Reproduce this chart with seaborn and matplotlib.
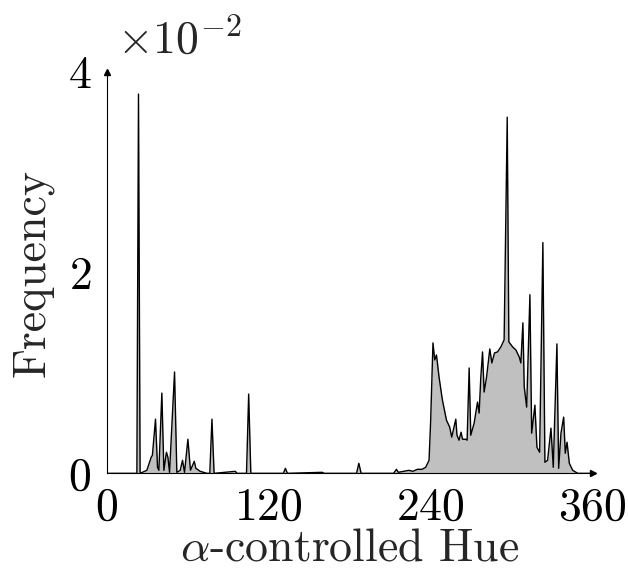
import matplotlib
matplotlib.use("Agg")
import matplotlib.pyplot as plt
import seaborn as sns
import pandas as pd

# Histogram of alpha-controlled hue
hue = [0, 22.3, 23.5, 24.7, 29.7, 32.9, 33.8, 36.1, 37.6, 38.6, 40.8, 42.3, 44.2, 45.3,
       46.5, 50.2, 51.9, 54.4, 56.1, 57.6, 60.1, 62.0, 64.8, 66.0, 69.2, 74.2, 76.3, 77.9,
       79.5, 95.2, 96.5, 103.5, 105.1, 106.7, 130.8, 132.3, 133.8, 159.6, 161.0, 185.0,
       186.7, 188.4, 212.5, 214.5, 216.0, 223.8, 226.6, 230.1, 233.5, 236.2, 238.7, 239.9,
       241.6, 242.9, 244.2, 246.1, 248.6, 251.6, 254.0, 255.5, 258.5, 259.4, 260.9, 262.4,
       263.5, 265.9, 266.9, 268.4, 269.6, 272.1, 274.6, 275.8, 277.0, 278.3, 279.5, 281.3,
       283.7, 285.2, 287.2, 289.4, 291.9, 294.3, 296.6, 297.8, 300.6, 303.0, 305.5, 306.7,
       308.2, 309.2, 311.0, 313.4, 314.7, 317.1, 318.6, 320.6, 323.0, 324.5, 326.5, 329.0,
       330.7, 333.4, 334.7, 336.4, 338.4, 339.6, 340.9, 342.6, 345.1, 348.8, 360]
freq = [0, 0, 0.0378, 0, 0.0003, 0.0016, 0.0018, 0.0054, 0.0006, 0.0003, 0.0080, 0.0003,
        0.0021, 0.0016, 0.0001, 0.0101, 0.0001, 0.0003, 0.0013, 0.0001, 0.0034, 0.0003,
        0.0012, 0.0005, 0.0002, 0, 0, 0.0054, 0, 0.0002, 0, 0, 0.0079, 0, 0, 0.0005, 0,
        0.0001, 0, 0, 0.0010, 0, 0, 0.0004, 0.0001, 0.0003, 0.0002, 0.0004, 0.0004, 0.0006,
        0.0013, 0.0053, 0.0130, 0.0113, 0.0118, 0.0096, 0.0073, 0.0053, 0.0046, 0.0036,
        0.0054, 0.0038, 0.0033, 0.0041, 0.0034, 0.0034, 0.0033, 0.0105, 0.0038, 0.0050,
        0.0071, 0.0060, 0.0095, 0.0121, 0.0081, 0.0096, 0.0124, 0.0110, 0.0120, 0.0121,
        0.0126, 0.0133, 0.0355, 0.0131, 0.0126, 0.0123, 0.0116, 0.0110, 0.0150, 0.0086,
        0.0066, 0.0178, 0.0040, 0.0068, 0.0026, 0.0021, 0.0230, 0.0011, 0.0013, 0.0045,
        0.0006, 0.0129, 0.0005, 0.0040, 0.0056, 0.0020, 0.0031, 0.0010, 0.0003, 0, 0]

xticks = [0, 120, 240, 360]
yticks = [0, 0.02, 0.04]
ytick_labels = ["$0$", "$2$", "$4$"]

df = pd.DataFrame({"hue": hue, "freq": freq})

sns.set_theme(style="white")
plt.rcParams["font.family"] = ["cmr10"]
plt.rcParams["mathtext.fontset"] = "cm"
plt.rcParams["axes.formatter.use_mathtext"] = True

fs_tick = 33
fs_lab = 33
fig = plt.figure(figsize=(6.28, 5.7), dpi=100)
ax = fig.add_axes([0.170, 0.1696, 0.774, 0.7041])

ax.fill_between(df["hue"], df["freq"], color="#c0c0c0", lw=0)
sns.lineplot(data=df, x="hue", y="freq", ax=ax, color="black", lw=1.0,
             estimator=None, sort=False)

ax.set_xlim(0, 360)
ax.set_ylim(0, 0.04)
ax.set_xticks(xticks)
ax.set_xticklabels([f"${t}$" for t in xticks], fontsize=fs_tick)
ax.set_yticks(yticks)
ax.set_yticklabels(ytick_labels, fontsize=fs_tick)
ax.tick_params(direction="inout", length=6, width=0.6, color="#aaaaaa",
               labelcolor="black", pad=7)
ax.tick_params(axis="y", pad=8)

ax.set_xlabel(r"$\alpha$-controlled Hue", fontsize=fs_lab, labelpad=-1)
ax.set_ylabel("Frequency", fontsize=fs_lab, labelpad=10)

for side in ["top", "right"]:
    ax.spines[side].set_visible(False)
for side in ["left", "bottom"]:
    ax.spines[side].set_color("black")
    ax.spines[side].set_linewidth(0.8)

# pgfplots-style arrow heads
ax.plot(1, 0, ">", color="black", ms=5, transform=ax.transAxes, clip_on=False)
ax.plot(0, 1, "^", color="black", ms=5, transform=ax.transAxes, clip_on=False)

fig.text(0.186, 0.905, r"$\times10^{-2}$", fontsize=fs_tick, va="baseline")

fig.savefig("out.png", dpi=100)
